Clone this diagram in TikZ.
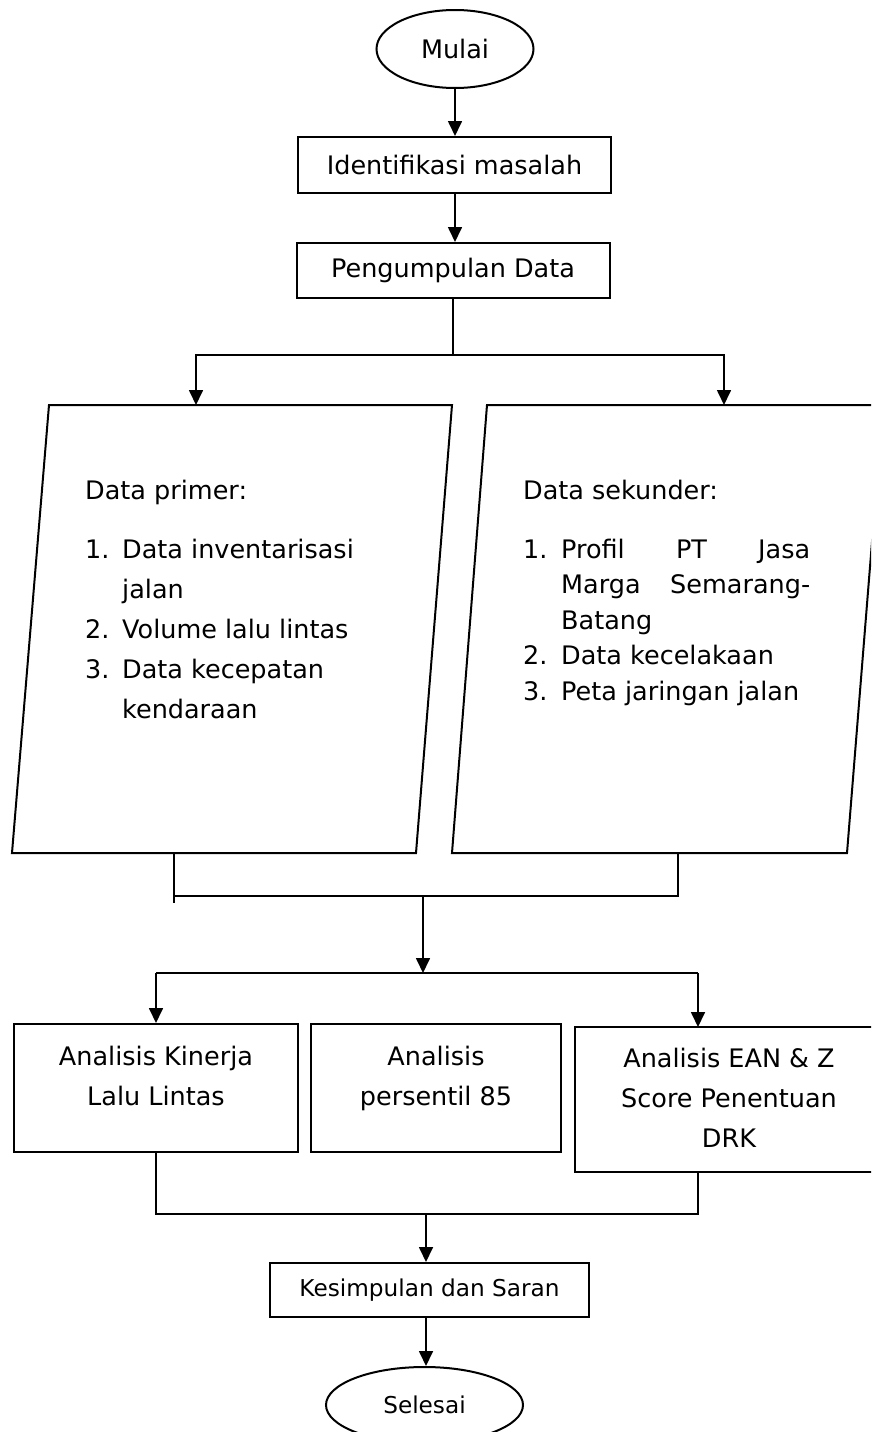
\documentclass[tikz,border=0pt]{standalone}
\usepackage{fontspec}
\setmainfont{DejaVu Sans}
\usetikzlibrary{shapes.geometric,arrows.meta}
\newcommand\fsmain{\fontsize{25.5}{40}\selectfont}
\newcommand\fsnarrow{\fontsize{25.5}{35.5}\selectfont}
\newcommand\fssmall{\fontsize{23.2}{30}\selectfont}
\tikzset{
  conn/.style={line width=1.7pt},
  arr/.style={conn,-{Triangle[length=15pt,width=14pt]}},
  boxline/.style={draw,line width=2pt},
  procbox/.style={boxline,rectangle,inner sep=0pt,font=\fsmain},
  termnode/.style={boxline,ellipse,inner sep=0pt,font=\fsmain},
  txt/.style={inner sep=0pt,anchor=base,font=\fsmain},
}
\begin{document}
\begin{tikzpicture}[x=1pt,y=-1pt]
\clip (0,0) rectangle (871,1432);

% start, problem statement, data collection
\node[termnode,minimum width=157pt,minimum height=78pt] (start) at (455,49) {Mulai};
\node[procbox,minimum width=313pt,minimum height=56pt] (ident) at (454.5,165) {Identifikasi masalah};
\node[procbox,minimum width=313pt,minimum height=55pt] (collect) at (453,270.5) {Pengumpulan Data};

\draw[arr] (start.south) -- (start.south |- ident.north);
\draw[arr] (ident.south -| start.south) -- (start.south |- collect.north);

% split into primary and secondary data
\coordinate (split1) at (453,355);
\coordinate (priTop) at (196,405);
\coordinate (sekTop) at (724,405);
\draw[conn] (collect.south) -- (split1);
\draw[arr] (split1) -| (priTop);
\draw[arr] (split1) -| (sekTop);

% data parallelograms
\draw[boxline] (12,853) -- (49,405) -- (452,405) -- (416,853) -- cycle;
\draw[boxline] (452,853) -- (487,405) -- (883,405) -- (847,853) -- cycle;

\node[txt,anchor=base west] (priText) at (85,499) {\fsmain
  \begin{tabular}[t]{@{}p{37pt}@{}l@{}}
  \multicolumn{2}{@{}l@{}}{Data primer:}\\[19pt]
  1. & Data inventarisasi\\
     & jalan\\
  2. & Volume lalu lintas\\
  3. & Data kecepatan\\
     & kendaraan
  \end{tabular}};

\node[txt,anchor=base west] (sekText) at (523,499) {\fsnarrow
  \begin{tabular}[t]{@{}p{38pt}@{}l@{}}
  \multicolumn{2}{@{}l@{}}{Data sekunder:}\\[23.5pt]
  1. & \hbox to 249pt{Profil\hfill PT\hfill Jasa}\\
     & \hbox to 249pt{Marga\hfill Semarang-}\\
     & Batang\\
  2. & Data kecelakaan\\
  3. & Peta jaringan jalan
  \end{tabular}};

% merge of both data sets
\coordinate (priBot) at (174,853);
\coordinate (priTail) at (174,903);
\coordinate (sekBot) at (678,853);
\coordinate (merge1) at (423,896);
\coordinate (split2) at (423,973);
\draw[conn] (priBot) -- (priTail);
\draw[conn] (priBot |- merge1) -- (sekBot |- merge1) -- (sekBot);
\draw[arr] (merge1) -- (split2);

% analysis boxes
\node[procbox,minimum width=284pt,minimum height=128pt] (kinerja) at (156,1088) {};
\node[procbox,minimum width=250pt,minimum height=128pt] (persentil) at (436,1088) {};
\node[procbox,minimum width=308pt,minimum height=145pt] (ean) at (729,1099.5) {};

\node[txt] (kinerjaText) at (156,1065) {\fsmain
  \begin{tabular}[t]{@{}c@{}}Analisis Kinerja\\ Lalu Lintas\end{tabular}};
\node[txt] (persentilText) at (436,1065) {\fsmain
  \begin{tabular}[t]{@{}c@{}}Analisis\\ persentil 85\end{tabular}};
\node[txt] (eanText) at (729,1067) {\fsmain
  \begin{tabular}[t]{@{}c@{}}Analisis EAN \& Z\\ Score Penentuan\\ DRK\end{tabular}};

\coordinate (eanIn) at (698,1027);
\coordinate (eanOut) at (698,1172);
\draw[conn] (kinerja.north |- split2) -- (eanIn |- split2);
\draw[arr] (kinerja.north |- split2) -- (kinerja.north);
\draw[arr] (eanIn |- split2) -- (eanIn);

% conclusion and end
\coordinate (join) at (426,1214);
\node[procbox,font=\fssmall,minimum width=319pt,minimum height=54pt] (concl) at (429.5,1290) {Kesimpulan dan Saran};
\node[termnode,font=\fssmall,minimum width=197pt,minimum height=76pt] (finish) at (424.5,1405) {Selesai};

\draw[conn] (kinerja.south) -- (kinerja.south |- join) -- (eanOut |- join) -- (eanOut);
\draw[arr] (join) -- (join |- concl.north);
\draw[arr] (join |- concl.south) -- (join |- finish.north);
\end{tikzpicture}
\end{document}
